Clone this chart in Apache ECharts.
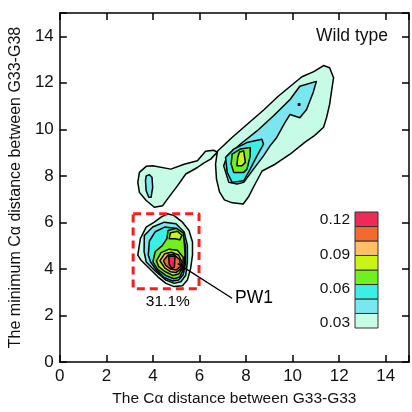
<!DOCTYPE html>
<html>
<head>
<meta charset="utf-8">
<script src="https://cdn.jsdelivr.net/npm/echarts@6/dist/echarts.min.js"></script>
<style>
  html, body { margin: 0; padding: 0; background: #fff; }
  #chart { width: 412px; height: 412px; }
</style>
</head>
<body>
<div id="chart"></div>
<script>
// contour level colours, lowest -> highest
var levelColors = ['#c6fce6', '#7ae6f0', '#3cefe5', '#72ef1e', '#c8f514', '#ffbf66', '#f26a2e', '#ee2b57']
// colour bar edges and its labels
var cbEdges = [0.0256, 0.0383, 0.0510, 0.0636, 0.0763, 0.0890, 0.1017, 0.1143, 0.1270]
var cbLabels = [0.03, 0.06, 0.09, 0.12]

// PW1 basin (lower left)
var pw1Lvl1 = [[3.35, 4.59], [3.46, 5.30], [3.71, 5.80], [4.06, 6.01], [4.35, 6.23], [4.63, 6.37], [4.91, 6.29], [5.27, 6.01], [5.55, 5.65], [5.70, 5.16], [5.70, 4.59], [5.62, 4.02], [5.48, 3.52], [5.27, 3.28], [4.91, 3.24], [4.56, 3.38], [4.21, 3.66], [3.85, 4.02], [3.49, 4.37]]
var pw1Lvl2 = [[3.62, 4.74], [3.63, 5.44], [3.99, 5.80], [4.49, 6.01], [4.99, 5.94], [5.34, 5.59], [5.48, 5.01], [5.48, 4.30], [5.41, 3.73], [5.20, 3.45], [4.91, 3.38], [4.56, 3.52], [4.13, 3.88], [3.71, 4.30]]
var pw1Lvl3 = [[3.80, 4.60], [3.85, 5.20], [4.10, 5.60], [4.50, 5.80], [4.95, 5.75], [5.30, 5.45], [5.40, 4.95], [5.40, 4.25], [5.30, 3.75], [5.10, 3.52], [4.85, 3.48], [4.50, 3.62], [4.15, 3.95], [3.90, 4.30]]
var pw1Lvl4 = [[4.00, 4.30], [4.10, 4.75], [4.40, 5.00], [4.60, 5.30], [4.65, 5.65], [5.00, 5.75], [5.30, 5.55], [5.35, 5.10], [5.38, 4.60], [5.32, 4.00], [5.15, 3.65], [4.90, 3.58], [4.55, 3.72], [4.20, 3.98]]
var pw1Lvl5a = [[4.70, 5.30], [4.75, 5.55], [5.05, 5.62], [5.25, 5.45], [5.15, 5.25], [4.95, 5.30]]
var pw1Lvl5b = [[4.15, 4.35], [4.35, 4.70], [4.70, 4.85], [5.05, 4.80], [5.30, 4.50], [5.28, 4.05], [5.10, 3.78], [4.85, 3.72], [4.50, 3.90], [4.25, 4.10]]
var pw1Lvl6 = [[4.30, 4.35], [4.50, 4.65], [4.80, 4.72], [5.10, 4.60], [5.25, 4.30], [5.20, 4.00], [5.00, 3.85], [4.75, 3.88], [4.50, 4.05]]
var pw1Lvl7 = [[4.45, 4.35], [4.65, 4.60], [4.90, 4.62], [5.15, 4.40], [5.18, 4.10], [5.00, 3.95], [4.75, 4.00], [4.55, 4.15]]
var pw1Lvl8 = [[4.68, 4.55], [4.95, 4.55], [4.92, 4.08], [4.82, 4.02], [4.70, 4.20]]

// small basin with tail (left middle)
var blobLvl1 = [[3.42, 8.15], [3.71, 8.41], [3.99, 8.43], [4.77, 8.29], [5.34, 8.50], [5.91, 8.65], [6.26, 9.06], [6.60, 9.10], [6.77, 9.02], [6.48, 8.72], [6.18, 8.55], [5.91, 8.36], [5.41, 8.08], [5.06, 7.58], [4.63, 7.01], [4.42, 6.72], [4.06, 6.65], [3.71, 6.94], [3.42, 7.29], [3.35, 7.72]]
var blobLvl2 = [[3.71, 8.00], [3.85, 8.05], [3.96, 7.94], [3.99, 7.51], [3.92, 7.08], [3.82, 7.08], [3.71, 7.36], [3.68, 7.79]]

// long diagonal basin
var ridgeLvl1 = [[6.77, 9.06], [7.41, 9.66], [8.10, 10.26], [8.78, 10.85], [9.37, 11.41], [9.89, 11.84], [10.40, 12.26], [10.91, 12.48], [11.33, 12.74], [11.59, 12.65], [11.76, 12.22], [11.67, 11.62], [11.59, 11.07], [11.46, 10.51], [11.33, 10.09], [10.95, 9.74], [10.52, 9.44], [9.89, 8.93], [9.25, 8.50], [8.69, 8.21], [8.39, 7.65], [8.10, 7.09], [7.88, 6.79], [7.41, 6.84], [7.07, 6.97], [6.86, 7.31], [6.73, 7.86], [6.69, 8.50]]
var ridgeLvl2 = [[10.31, 11.85], [11.02, 12.06], [10.88, 11.57], [10.60, 10.85], [10.31, 10.50], [9.89, 10.64], [9.67, 10.29], [9.32, 9.65], [9.03, 9.29], [8.75, 8.86], [8.32, 8.29], [7.90, 7.72], [7.61, 7.65], [7.26, 7.72], [7.04, 8.43], [7.19, 8.86], [7.75, 9.36], [8.47, 9.93], [9.17, 10.57], [9.89, 11.28]]
var ridgeLvl3 = [[7.12, 8.79], [7.47, 9.15], [8.04, 9.43], [8.68, 9.57], [8.75, 9.36], [8.47, 8.86], [8.18, 8.29], [7.90, 7.79], [7.40, 7.72], [7.19, 8.15]]
var ridgeLvl4 = [[7.40, 8.93], [7.75, 9.15], [8.18, 9.22], [8.18, 8.86], [8.04, 8.29], [7.90, 8.15], [7.47, 8.15], [7.36, 8.50]]
var ridgeLvl5 = [[7.72, 9.03], [7.90, 9.07], [7.97, 8.58], [7.83, 8.43], [7.61, 8.43], [7.64, 8.79]]
var ridgeDot = [[10.25, 11.10], [10.31, 11.10], [10.31, 11.04], [10.25, 11.04]]

// annotations
var boxPts = [[3.15, 6.37], [5.98, 6.37], [5.98, 3.15], [3.15, 3.15], [3.15, 6.37]]
var leaderPts = [[5.07, 4.23], [7.40, 2.74]]
var noteNames = ['PW1', '31.1%']
var notePos = [[7.40, 2.74], [4.64, 2.58]]

// [level index, polygon] in drawing order
var contours = [
  [0, pw1Lvl1], [1, pw1Lvl2], [2, pw1Lvl3], [3, pw1Lvl4], [4, pw1Lvl5a], [4, pw1Lvl5b],
  [5, pw1Lvl6], [6, pw1Lvl7], [7, pw1Lvl8],
  [0, blobLvl1], [1, blobLvl2],
  [0, ridgeLvl1], [1, ridgeLvl2], [2, ridgeLvl3], [3, ridgeLvl4], [4, ridgeLvl5], [2, ridgeDot]
]

var font = "'Liberation Sans', Arial, sans-serif"

var myChart = echarts.init(document.getElementById('chart'))

function mainAxis (pos, name, showLabel) {
  return {
    type: 'value',
    gridIndex: 0,
    position: pos,
    min: 0,
    max: 15,
    interval: 2,
    name: name,
    nameLocation: 'middle',
    nameGap: pos === 'left' ? 33 : 29,
    nameTextStyle: {fontSize: pos === 'left' ? 16 : 15.5, color: '#111', fontFamily: font},
    axisLine: {show: true, onZero: false, lineStyle: {color: '#000', width: 1.5}},
    axisTick: {show: true, inside: true, length: 7, lineStyle: {color: '#000', width: 1.5}},
    axisLabel: {
      show: showLabel,
      fontSize: 17,
      color: '#111',
      fontFamily: font,
      margin: 6,
      formatter: function (v) { return v === 15 ? '' : String(v) }
    },
    splitLine: {show: false}
  }
}

var option = {
  animation: false,
  backgroundColor: '#fff',
  title: {
    text: 'Wild type',
    right: 24,
    top: 27,
    padding: 0,
    textStyle: {fontSize: 17.5, fontWeight: 'normal', color: '#111', fontFamily: font}
  },
  grid: [
    {left: 58, right: 2, top: 13, bottom: 48},
    {left: 355, top: 212, width: 23, height: 116}
  ],
  xAxis: [
    mainAxis('bottom', 'The C\u03b1 distance between G33-G33', true),
    mainAxis('top', '', false),
    {type: 'value', gridIndex: 1, min: 0, max: 1, show: false}
  ],
  yAxis: [
    mainAxis('left', 'The minimum C\u03b1 distance between G33-G38', true),
    mainAxis('right', '', false),
    {
      type: 'value',
      gridIndex: 1,
      min: cbEdges[0],
      max: cbEdges[cbEdges.length - 1],
      axisLine: {show: false},
      axisTick: {show: false},
      splitLine: {show: false},
      axisLabel: {
        customValues: cbLabels,
        formatter: function (v) { return v.toFixed(2) },
        fontSize: 15.5,
        color: '#111',
        fontFamily: font,
        margin: 5
      }
    }
  ],
  series: [
    {
      type: 'custom',
      xAxisIndex: 0,
      yAxisIndex: 0,
      silent: true,
      encode: {x: 0, y: 1},
      data: contours.map(function (c, i) { return [c[1][0][0], c[1][0][1], i] }),
      renderItem: function (params, api) {
        var c = contours[api.value(2)]
        var pts = c[1].map(function (p) { return api.coord(p) })
        return {
          type: 'polygon',
          shape: {points: pts},
          style: {fill: levelColors[c[0]], stroke: '#000', lineWidth: 1.5, lineJoin: 'round'}
        }
      }
    },
    {
      type: 'line',
      xAxisIndex: 0,
      yAxisIndex: 0,
      silent: true,
      symbol: 'none',
      data: boxPts,
      lineStyle: {color: '#ff1a1a', width: 3, type: [8, 5]}
    },
    {
      type: 'line',
      xAxisIndex: 0,
      yAxisIndex: 0,
      silent: true,
      symbol: 'none',
      data: leaderPts,
      lineStyle: {color: '#000', width: 1.3}
    },
    {
      type: 'scatter',
      xAxisIndex: 0,
      yAxisIndex: 0,
      silent: true,
      symbolSize: 0,
      itemStyle: {opacity: 1},
      data: noteNames.map(function (n, i) {
        return {
          name: n,
          value: notePos[i],
          label: {
            show: true,
            formatter: n,
            position: i === 0 ? 'right' : 'inside',
            distance: 3,
            fontSize: i === 0 ? 17.5 : 15.5,
            color: '#000',
            opacity: 1,
            textBorderWidth: 0,
            fontFamily: font
          }
        }
      })
    },
    {
      type: 'custom',
      xAxisIndex: 2,
      yAxisIndex: 2,
      silent: true,
      encode: {x: 0, y: [1, 2]},
      data: levelColors.map(function (col, i) { return [0, cbEdges[i], cbEdges[i + 1], i] }),
      renderItem: function (params, api) {
        var p1 = api.coord([0, api.value(2)])
        var p2 = api.coord([1, api.value(1)])
        return {
          type: 'rect',
          shape: {x: p1[0], y: p1[1], width: p2[0] - p1[0], height: p2[1] - p1[1]},
          style: {fill: levelColors[api.value(3)], stroke: '#333', lineWidth: 1}
        }
      }
    }
  ]
}

myChart.setOption(option)
</script>
</body>
</html>
